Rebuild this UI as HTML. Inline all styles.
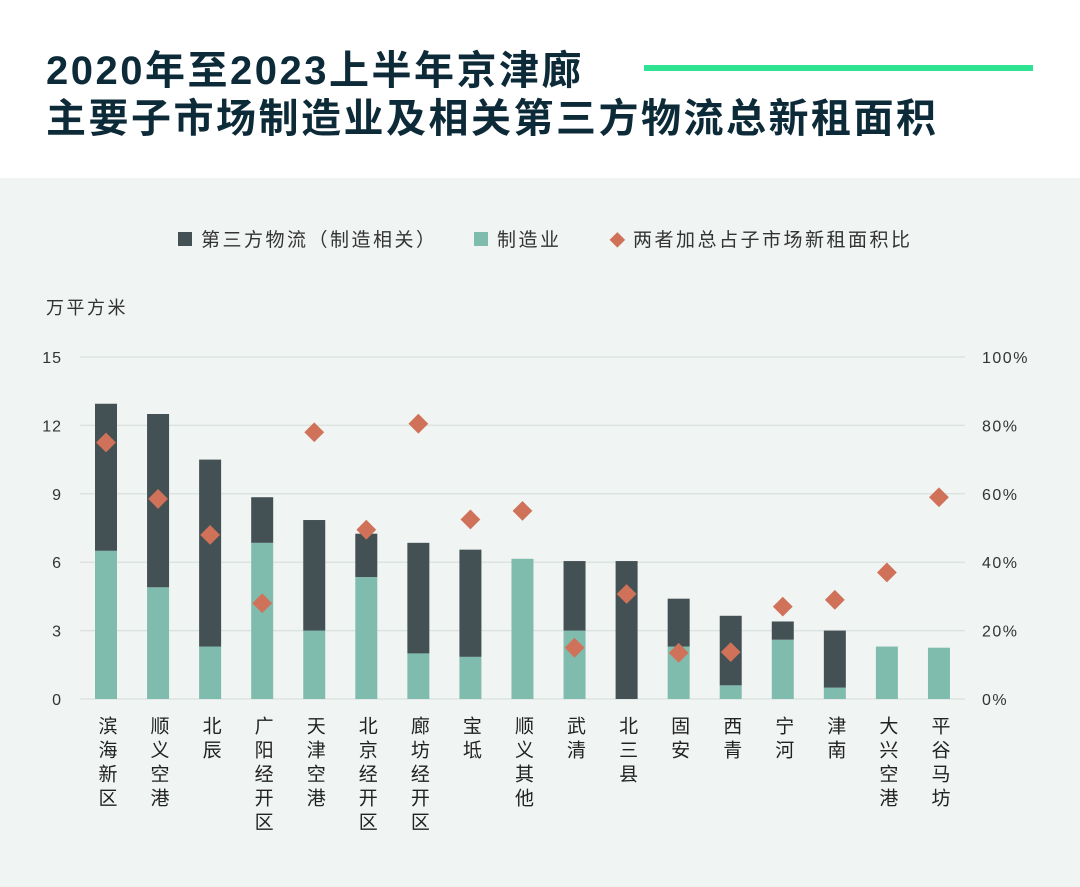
<!DOCTYPE html>
<html><head><meta charset="utf-8">
<style>
body{margin:0;width:1080px;height:887px;background:#fff;font-family:"Liberation Sans","Noto Sans CJK SC",sans-serif;overflow:hidden;position:relative}
#title{position:absolute;left:46px;top:47px;font-size:40px;font-weight:bold;color:#0d2a38;line-height:48px;letter-spacing:2.5px;white-space:nowrap}
#rule{position:absolute;left:644px;top:65px;width:389px;height:6px;background:#2ee391}
#panel{position:absolute;left:0;top:178px;width:1080px;height:709px;background:#f0f4f2}
svg text{font-family:"Liberation Sans","Noto Sans CJK SC",sans-serif}
</style></head><body>
<div id="title">2020年至2023上半年京津廊<br>主要子市场制造业及相关第三方物流总新租面积</div>
<div id="rule"></div>
<div id="panel"></div>
<svg id="chart" width="1080" height="887" style="position:absolute;left:0;top:0"></svg>
<script>
const categories=["滨海新区","顺义空港","北辰","广阳经开区","天津空港","北京经开区","廊坊经开区","宝坻","顺义其他","武清","北三县","固安","西青","宁河","津南","大兴空港","平谷马坊"];
const manufacturing=[6.5,4.9,2.3,6.85,3.0,5.35,2.0,1.85,6.15,3.0,0,2.3,0.6,2.6,0.5,2.3,2.25];
const logistics=[6.45,7.6,8.2,2.0,4.85,1.9,4.85,4.7,0,3.05,6.05,2.1,3.05,0.8,2.5,0,0];
const share=[75,58.5,48,28,78,49.5,80.5,52.5,55,15,30.7,13.5,13.7,27,29,37,59];
const leftTicks=[0,3,6,9,12,15];
const rightTicks=[0,20,40,60,80,100];
const svg=document.getElementById('chart');const NS='http://www.w3.org/2000/svg';
function mk(t,a,txt){const e=document.createElementNS(NS,t);for(const k in a)e.setAttribute(k,a[k]);if(txt!==undefined)e.textContent=txt;svg.appendChild(e);return e;}
const y0=699,yTop=357,x0=80,x1=965;
const yL=v=>y0-(v/15)*(y0-yTop);
const yR=v=>y0-(v/100)*(y0-yTop);
const xC=i=>106+i*52.06;
leftTicks.forEach(t=>{
 const g=mk('line',{x1:x0,x2:x1,y1:yL(t),y2:yL(t),stroke:'#dde3e1','stroke-width':1.5});
 
 const l=mk('text',{x:62,y:yL(t)+6,'text-anchor':'end','font-size':16,fill:'#333','letter-spacing':1},t);
 
});
rightTicks.forEach(t=>{
 const l=mk('text',{x:982,y:yR(t)+6,'font-size':16,fill:'#333','letter-spacing':1.5},t+'%');
 
});
const u=mk('text',{x:46,y:314,'font-size':18,fill:'#333','letter-spacing':2.5},'万平方米');

categories.forEach((c,i)=>{
 const x=xC(i),w=22;
 const m=mk('rect',{x:x-w/2,y:yL(manufacturing[i]),width:w,height:y0-yL(manufacturing[i]),fill:'#80bcae'});
 
 const top=manufacturing[i]+logistics[i];
 const l=mk('rect',{x:x-w/2,y:yL(top),width:w,height:yL(manufacturing[i])-yL(top),fill:'#435154'});
 
 const yy=yR(share[i]);
 const d=mk('rect',{x:x-7,y:yy-7,width:14,height:14,fill:'#d0725a',transform:`rotate(45 ${x} ${yy})`});
 
 const t=mk('text',{x:x,y:716,'font-size':19,fill:'#222',style:'writing-mode:vertical-rl;text-orientation:upright;letter-spacing:5px'},c);
 
});
const lg=[[178,'#435154','第三方物流（制造相关）','rect'],[474,'#80bcae','制造业','rect'],[617,'#d0725a','两者加总占子市场新租面积比','dia']];
lg.forEach(a=>{
 let s;
 if(a[3]==='rect'){s=mk('rect',{x:a[0],y:232,width:14,height:14,fill:a[1]});}
 else{s=mk('rect',{x:a[0]-5,y:234,width:11,height:11,fill:a[1],transform:`rotate(45 ${a[0]} 239.5)`});}
 
 const t=mk('text',{x:a[0]+(a[3]==='rect'?23:16),y:246,'font-size':19,fill:'#333','letter-spacing':2.5},a[2]);
 
});
</script>
</body></html>
